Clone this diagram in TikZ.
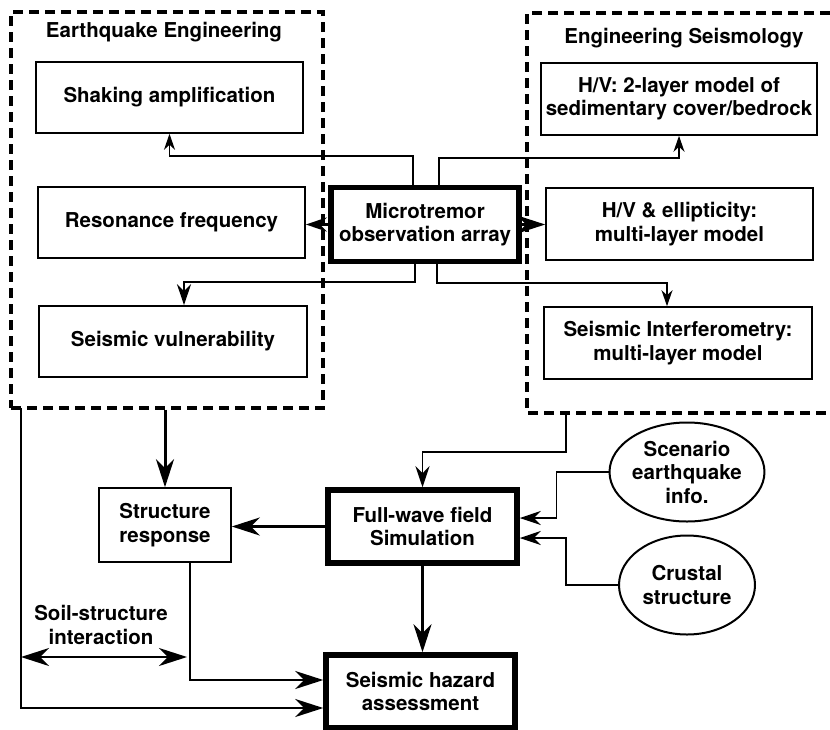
\documentclass[tikz,border=0pt]{standalone}
\usepackage{fontspec}
\setmainfont{TeX Gyre Heros}
\usepackage{tikz}
\usetikzlibrary{arrows.meta,shapes.geometric}

\begin{document}
\begin{tikzpicture}[
    x=1pt, y=-1pt,
    font=\fontsize{20.5}{23.5}\selectfont\bfseries,
    box/.style={draw, line width=1.6pt, rectangle, inner sep=0pt, align=center, minimum width=267pt, minimum height=71pt},
    mainbox/.style={draw, line width=5.5pt, rectangle, inner sep=0pt, align=center, minimum width=188pt, minimum height=74pt},
    oval/.style={draw, line width=2pt, ellipse, inner sep=0pt, align=center, minimum width=136pt, minimum height=99pt},
    dashbox/.style={draw, line width=3.2pt, dash pattern=on 10pt off 6pt},
    wire/.style={line width=1.6pt},
    mid/.style={line width=2.4pt},
    bus/.style={line width=3pt},
    sarr/.style={-{Stealth[length=16pt,width=11pt,inset=5pt]}},
    marr/.style={-{Stealth[length=21pt,width=14pt,inset=7pt]}},
    barr/.style={-{Stealth[length=28pt,width=18pt,inset=9pt]}},
    dbarr/.style={{Stealth[length=28pt,width=18pt,inset=9pt]}-{Stealth[length=28pt,width=18pt,inset=9pt]}}
]
    \useasboundingbox (0,0) rectangle (830,729);

    % the two fields
    \node[dashbox, minimum width=312pt, minimum height=396pt] (eebox) at (167,210) {};
    \draw[dashbox] (830,13) -| (527,413) -- (830,413);
    \coordinate (esbot) at (566,413);
    \coordinate (eeleft) at (21,408);
    \node (eetitle) at (164,32) {Earthquake Engineering};
    \node (estitle) at (684,38) {Engineering Seismology};

    \node[box] (shaking) at (169.5,97.5) {Shaking amplification};
    \node[box] (resonance) at (171.5,222.5) {Resonance frequency};
    \node[box, minimum width=268pt] (vulner) at (173,341.5) {Seismic vulnerability};
    \node[mainbox] (micro) at (425,224.5) {Microtremor\\observation array};
    \node[box, minimum width=276pt, minimum height=72pt] (hvtwo) at (679,99) {H/V: 2-layer model of\\sedimentary cover/bedrock};
    \node[box, minimum height=72pt] (hvell) at (679.5,224) {H/V \& ellipticity:\\multi-layer model};
    \node[box, minimum width=268pt, minimum height=72pt] (interf) at (678,343) {Seismic Interferometry:\\multi-layer model};

    \node[box, minimum width=132pt, minimum height=74pt] (structure) at (165,525) {Structure\\response};
    \node[mainbox, minimum width=189pt, minimum height=73pt] (fullwave) at (422.5,526.5) {Full-wave field\\Simulation};
    \node[mainbox, minimum width=189pt, minimum height=73pt] (hazard) at (420.5,691.5) {Seismic hazard\\assessment};
    \node[oval] (scenario) at (687,472) {Scenario\\earthquake\\info.};
    \node[oval] (crustal) at (687,585) {Crustal\\structure};
    \node[align=center] (soil) at (101,625) {Soil-structure\\interaction};
    \coordinate (soilL) at (21,657);
    \coordinate (soilR) at (187,657);

    \draw[wire, sarr] ([xshift=-12pt]micro.north) -- ++(0,-29) -| (shaking.south);
    \draw[wire, sarr] ([xshift=14pt]micro.north) -- ++(0,-27) -| (hvtwo.south);
    \draw[bus, marr] (micro.west) -- (micro.west -| resonance.east);
    \draw[bus, barr] (micro.east) -- (micro.east -| hvell.west);
    \draw[wire, marr] ([xshift=-10pt]micro.south) -- ++(0,18) -| ([xshift=11pt]vulner.north);
    \draw[wire, sarr] ([xshift=12pt]micro.south) -- ++(0,19) -| ([xshift=-11pt]interf.north);

    \draw[bus, barr] (eebox.south -| structure.north) -- (structure.north);
    \draw[wire, marr] (esbot) -- ++(0,39) -| (fullwave.north);
    \draw[bus, barr] (fullwave.west) -- (fullwave.west -| structure.east);
    \draw[bus, barr] (fullwave.south) -- (fullwave.south |- hazard.north);
    \draw[mid, barr] ([xshift=25pt]structure.south) |- ([yshift=11.5pt]hazard.west);
    \draw[mid, barr] (eeleft) |- ([yshift=-16.5pt]hazard.west);
    \draw[mid, dbarr] (soilL) -- (soilR);
    \draw[wire, marr] (scenario.west) -- ++(-52,0) |- ([yshift=8.5pt]fullwave.east);
    \draw[wire, marr] (crustal.west) -- ++(-52,0) |- ([yshift=-11.5pt]fullwave.east);
\end{tikzpicture}
\end{document}
